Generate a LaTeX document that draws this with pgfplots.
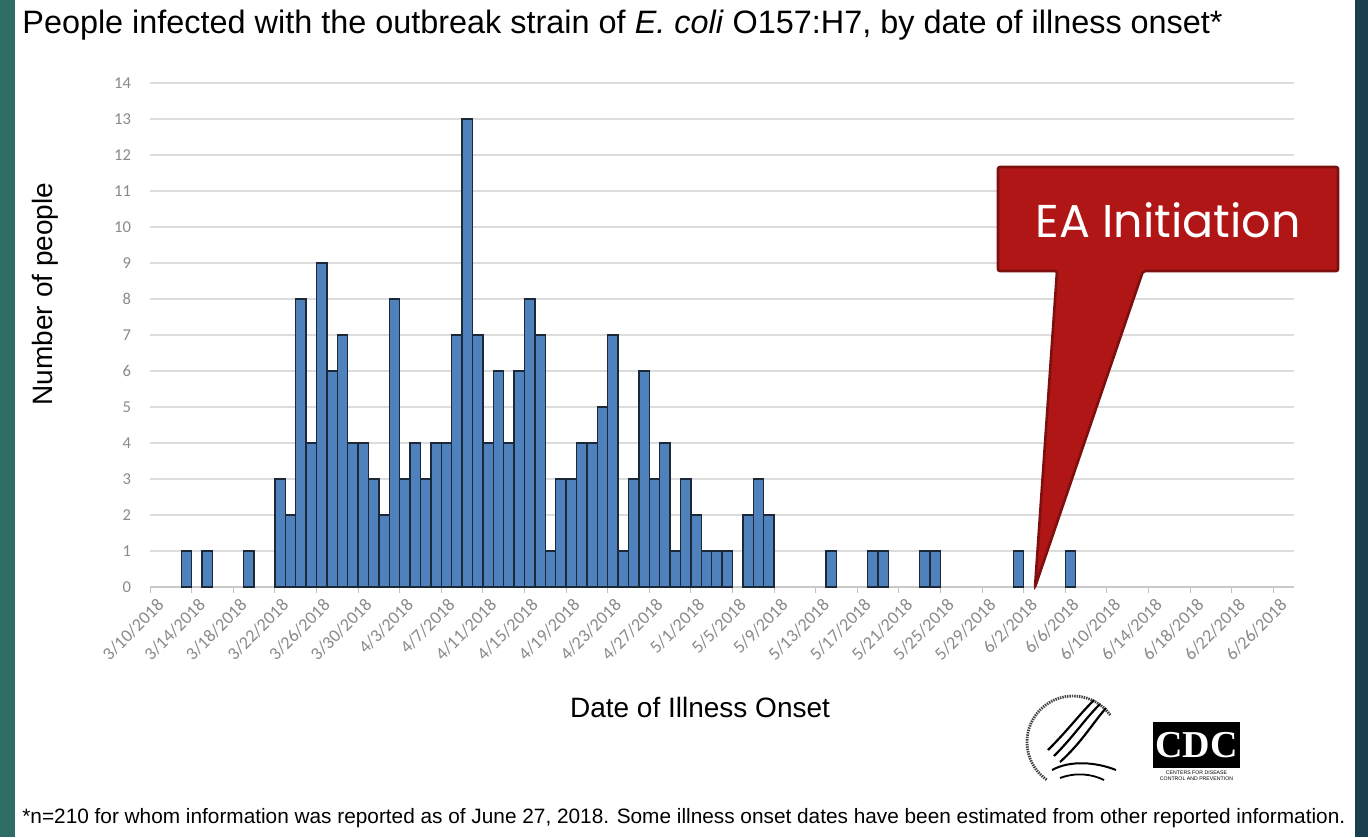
\documentclass[border=0pt]{standalone}
\usepackage{fontspec}
\usepackage{pgfplots}
\usepackage{pgfplotstable}
\pgfplotsset{compat=1.18}
\setmainfont{Liberation Sans}
\newfontfamily\carlito{Carlito}
\newfontfamily\popp{Poppins}
\newfontfamily\lserif{Liberation Serif}
\definecolor{barblue}{HTML}{4F81BD}
\definecolor{baredge}{HTML}{1B2838}
\definecolor{gridc}{HTML}{DCDCDC}
\definecolor{tickc}{HTML}{8A8A8A}
\definecolor{calred}{HTML}{B01616}
\definecolor{caledge}{HTML}{7E0F0F}
\definecolor{lstripe}{HTML}{2F6C66}
\definecolor{rstripe}{HTML}{1A3F4E}
\pgfplotstableread{
x y
3.5 1
5.5 1
9.5 1
12.5 3
13.5 2
14.5 8
15.5 4
16.5 9
17.5 6
18.5 7
19.5 4
20.5 4
21.5 3
22.5 2
23.5 8
24.5 3
25.5 4
26.5 3
27.5 4
28.5 4
29.5 7
30.5 13
31.5 7
32.5 4
33.5 6
34.5 4
35.5 6
36.5 8
37.5 7
38.5 1
39.5 3
40.5 3
41.5 4
42.5 4
43.5 5
44.5 7
45.5 1
46.5 3
47.5 6
48.5 3
49.5 4
50.5 1
51.5 3
52.5 2
53.5 1
54.5 1
55.5 1
57.5 2
58.5 3
59.5 2
65.5 1
69.5 1
70.5 1
74.5 1
75.5 1
83.5 1
88.5 1
}\casedata
\begin{document}
\begin{tikzpicture}
\fill[white] (0pt,0pt) rectangle (684pt,-418.5pt);
\fill[lstripe] (0pt,0pt) rectangle (7.5pt,-418.5pt);
\fill[rstripe] (677.5pt,0pt) rectangle (684pt,-418.5pt);
\begin{axis}[
  at={(75pt,-293.5pt)}, anchor=south west,
  scale only axis, width=572pt, height=252pt,
  xmin=0, xmax=110, ymin=0, ymax=14, enlargelimits=false,
  axis x line*=bottom, axis y line*=left,
  x axis line style={draw=gridc!80!gray, line width=0.6pt, -},
  y axis line style={draw=none},
  ymajorgrids, grid style={draw=gridc, line width=0.7pt},
  ytick={0,1,2,3,4,5,6,7,8,9,10,11,12,13,14},
  xtick={0,4,...,108},
  xticklabels={3/10/2018,3/14/2018,3/18/2018,3/22/2018,3/26/2018,3/30/2018,4/3/2018,4/7/2018,4/11/2018,4/15/2018,4/19/2018,4/23/2018,4/27/2018,5/1/2018,5/5/2018,5/9/2018,5/13/2018,5/17/2018,5/21/2018,5/25/2018,5/29/2018,6/2/2018,6/6/2018,6/10/2018,6/14/2018,6/18/2018,6/22/2018,6/26/2018},
  /pgf/number format/assume math mode=true,
  ytick style={draw=none},
  xtick style={draw=gridc!70!gray, line width=0.5pt},
  tick align=outside, major tick length=3pt,
  yticklabel style={font=\carlito\fontsize{8.3}{9}\selectfont, text=tickc, xshift=-3pt},
  xticklabel style={font=\carlito\fontsize{9}{10}\selectfont, text=tickc, rotate=45, anchor=east, xshift=4pt, yshift=-7pt},
]
\addplot[ybar, bar width=1, fill=barblue, draw=baredge, line width=0.7pt] table[x=x, y=y] {\casedata};
\end{axis}
% callout
\filldraw[fill=calred, draw=caledge, line width=1.3pt, rounded corners=1pt]
  (499pt,-83.5pt) -- (669pt,-83.5pt) -- (669pt,-135.5pt) -- (571.5pt,-135.5pt) -- (517.5pt,-293.5pt) -- (528.5pt,-135.5pt) -- (499pt,-135.5pt) -- cycle;
\node[text=white, font=\popp\fontsize{23}{26}\selectfont] at (584pt,-110pt) {EA Initiation};
% texts
\node[anchor=base west, inner sep=0pt, font=\fontsize{16.2}{18}\selectfont] at (11pt,-16.5pt) {People infected with the outbreak strain of \textit{E. coli} O157:H7, by date of illness onset*};
\node[font=\fontsize{14}{16}\selectfont] at (350pt,-353.5pt) {Date of Illness Onset};
\node[rotate=90, font=\fontsize{14}{16}\selectfont] at (22.5pt,-147pt) {Number of people};
\node[anchor=base west, inner sep=0pt, font=\fontsize{10.4}{12}\selectfont] at (11pt,-411.5pt) {*n=210 for whom information was reported as of June 27, 2018. Some illness onset dates have been estimated from other reported information.};
% HHS logo
\draw[black!75, line width=1.4pt, dash pattern=on 0.7pt off 0.5pt] (536.5pt,-371pt) ++(235:23pt) arc[start angle=235, end angle=35, radius=23pt];
\draw[line width=1.1pt] (553pt,-354pt) .. controls (546pt,-362pt) and (541pt,-371pt) .. (530pt,-381pt);
\draw[line width=1.1pt] (550pt,-352pt) .. controls (542pt,-360pt) and (537pt,-368pt) .. (527pt,-378pt);
\draw[line width=1.1pt] (547pt,-350pt) .. controls (539pt,-358pt) and (534pt,-365pt) .. (524pt,-375pt);
\draw[line width=1.0pt] (526pt,-385pt) .. controls (535pt,-380pt) and (548pt,-381pt) .. (558pt,-385pt);
\draw[line width=0.9pt] (530pt,-389pt) .. controls (538pt,-386pt) and (546pt,-387pt) .. (552pt,-390pt);
% CDC logo
\fill[black] (576.5pt,-361pt) rectangle (620pt,-384pt);
\node[text=white, font=\lserif\bfseries\fontsize{19}{20}\selectfont, inner sep=0pt] at (598.25pt,-372.5pt) {CDC};
\node[font=\fontsize{2.6}{3}\selectfont, inner sep=0pt, align=center] at (598.25pt,-388pt) {CENTERS FOR DISEASE\\CONTROL AND PREVENTION};
\pgfresetboundingbox
\path (0pt,0pt) rectangle (684pt,-418.5pt);
\end{tikzpicture}
\end{document}
